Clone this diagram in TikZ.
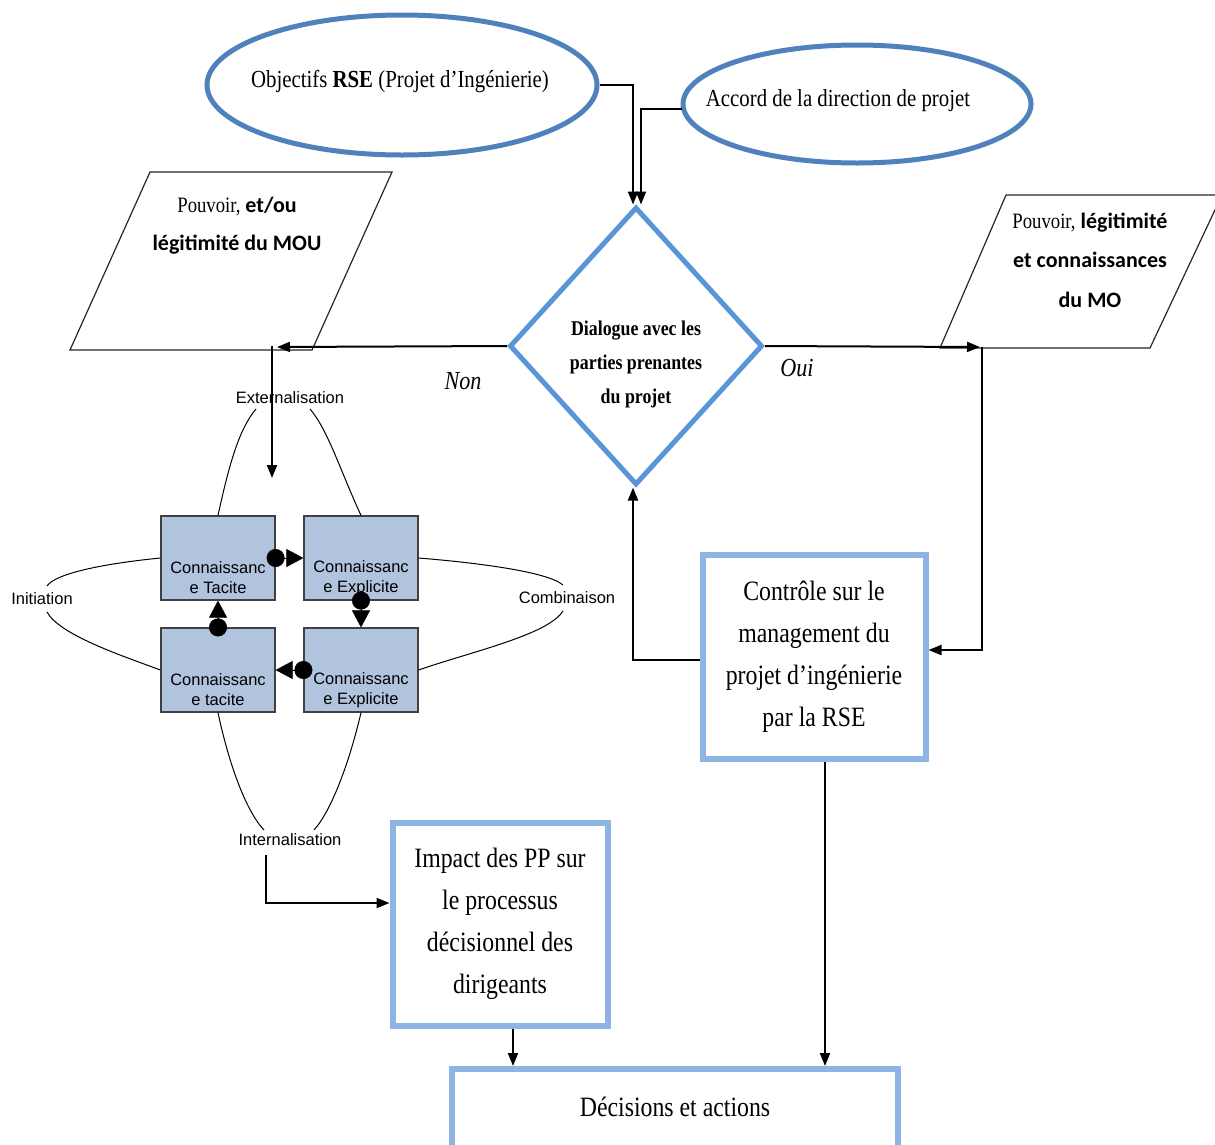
\documentclass[tikz,border=0pt]{standalone}
\usepackage{fontspec}
\setsansfont{Liberation Sans}
\newfontfamily\cserif[FakeStretch=0.85]{Liberation Serif}
\newfontfamily\csans{Carlito}
\usetikzlibrary{shapes.geometric,arrows.meta,calc}
\definecolor{ellblue}{RGB}{79,129,189}
\definecolor{diablue}{RGB}{90,150,215}
\definecolor{boxblue}{RGB}{141,180,226}
\definecolor{kfill}{RGB}{176,196,222}
\definecolor{kdraw}{RGB}{64,64,64}
\begin{document}
\begin{tikzpicture}[x=1pt,y=-1pt,
  ellnode/.style={ellipse, draw=ellblue, line width=5pt, inner sep=0pt},
  etext/.style={inner sep=0pt, font=\cserif\fontsize{24.5}{28}\selectfont},
  bbox/.style={rectangle, draw=boxblue, line width=6pt, inner sep=0pt, align=center,
    font=\cserif\fontsize{28}{42}\selectfont},
  kbox/.style={rectangle, draw=kdraw, fill=kfill, line width=1.2pt, minimum width=114pt, minimum height=84pt, inner sep=0pt},
  ktext/.style={align=center, inner sep=0pt, font=\sffamily\fontsize{16.5}{20}\selectfont},
  klabel/.style={inner sep=1pt, font=\sffamily\fontsize{16.5}{20}\selectfont},
  kmark/.style={line width=0.5pt, {Circle[length=18pt]}-{Triangle[length=17pt,width=18pt]}},
  arr/.style={line width=2pt, -{Triangle[length=13pt,width=10pt]}},
  curve/.style={line width=1pt},
  para/.style={line width=1.2pt, draw=black!85},
  ptext/.style={align=center, inner sep=0pt},
]
\useasboundingbox (0,0) rectangle (1215,1144);

% ellipses
\node[ellnode, minimum width=390pt, minimum height=140pt] (obj) at (402,85) {};
\node[etext] (objt) at (400,82) {Objectifs {\bfseries RSE} (Projet d’Ingénierie)};
\node[ellnode, minimum width=348pt, minimum height=118pt] (acc) at (857,104) {};
\node[etext] (acct) at (838,101) {Accord de la direction de projet};

% diamond
\node[diamond, draw=diablue, line width=5pt, minimum width=253pt, minimum height=278pt, inner sep=0pt] (dia) at (636,346) {};
\node[ptext, font=\cserif\bfseries\fontsize{21}{34}\selectfont] (diatext) at (636,364)
  {Dialogue avec les\\parties prenantes\\du projet};

% parallelograms
\draw[para] (150,172) -- (392,172) -- (312,350) -- (70,350) -- cycle;
\node[ptext, font=\csans\bfseries\fontsize{22}{38}\selectfont] (ptl) at (237,226)
  {{\cserif\mdseries Pouvoir,} et/ou\\légitimité du MOU};
\draw[para] (1006,195) -- (1222,195) -- (1150,348) -- (940,348) -- cycle;
\node[ptext, font=\csans\bfseries\fontsize{22}{39.5}\selectfont] (ptr) at (1090,260)
  {{\cserif\mdseries Pouvoir,} légitimité\\et connaissances\\du MO};

% blue boxes
\node[bbox, minimum width=223pt, minimum height=204pt] (ctrl) at (814,657)
  {Contrôle sur le\\management du\\projet d’ingénierie\\par la RSE};
\node[bbox, minimum width=215pt, minimum height=203pt] (imp) at (500,924)
  {Impact des PP sur\\le processus\\décisionnel des\\dirigeants};
\node[bbox, minimum width=446pt, minimum height=84pt] (dec) at (675,1111)
  {\raisebox{8pt}{Décisions et actions}};

% knowledge boxes
\node[kbox] (tl) at (218,558) {};
\node[kbox] (tr) at (361,558) {};
\node[kbox] (bl) at (218,670) {};
\node[kbox] (br) at (361,670) {};
\node[ktext] (tlt) at (218,578) {Connaissanc\\e Tacite};
\node[ktext] (trt) at (361,578) {Connaissanc\\e Explicite};
\node[ktext] (blt) at (218,690) {Connaissanc\\e tacite};
\node[ktext] (brt) at (361,690) {Connaissanc\\e Explicite};

\draw[kmark] ($(tl.east)+(-9,0)$) -- (tr.west);
\draw[kmark] ($(tr.south)+(0,-9)$) -- (br.north);
\draw[kmark] ($(br.west)+(9,0)$) -- (bl.east);
\draw[kmark] ($(bl.north)+(0,9)$) -- (tl.south);

% cycle labels and curves
\node[klabel] (ext) at (290,398) {Externalisation};
\node[klabel] (ini) at (42,599) {Initiation};
\node[klabel] (comb) at (567,598) {Combinaison};
\node[klabel] (intl) at (290,840) {Internalisation};

\draw[curve] (tl.north) .. controls (228,470) and (238,430) .. (256,409);
\draw[curve] (310,409) .. controls (328,430) and (340,470) .. (tr.north);
\draw[curve] (tl.west) .. controls (100,564) and (55,574) .. (47,586);
\draw[curve] (47,612) .. controls (60,635) and (120,655) .. (bl.west);
\draw[curve] (tr.east) .. controls (480,563) and (548,572) .. (563,585);
\draw[curve] (563,611) .. controls (548,635) and (470,652) .. (br.east);
\draw[curve] (bl.south) .. controls (228,760) and (245,810) .. (264,830);
\draw[curve] (br.south) .. controls (350,760) and (332,810) .. (314,830);

% helper coordinates
\coordinate (c633) at (633,0);
\coordinate (c641) at (641,0);
\coordinate (c825) at (825,0);
\coordinate (c513) at (513,0);
\coordinate (cNon) at (277,347);
\coordinate (cNonB) at (272,346);
\coordinate (cNonE) at (272,478);
\coordinate (cOui) at (980,347);
\coordinate (cOuiB) at (982,347);
\coordinate (cInt) at (266,855);

% connectors
\draw[arr] (obj.east) -| (dia.north -| c633);
\draw[arr] ($(acc.west)+(1,5)$) -| (dia.north -| c641);
\draw[arr] (dia.west) -- (cNon);
\draw[arr] (cNonB) -- (cNonE);
\draw[arr] (dia.east) -- (cOui);
\draw[arr] (cOuiB) |- ($(ctrl.east)+(0,-7)$);
\draw[arr] ($(ctrl.west)+(0,3)$) -| (dia.south -| c633);
\draw[arr] (ctrl.south -| c825) -- (dec.north -| c825);
\draw[arr] (imp.south -| c513) -- (dec.north -| c513);
\draw[arr] (cInt) |- ($(imp.west)+(0,-21)$);

\node[font=\cserif\itshape\fontsize{26}{30}\selectfont, inner sep=0pt] (non) at (463,381) {Non};
\node[font=\cserif\itshape\fontsize{26}{30}\selectfont, inner sep=0pt] (oui) at (797,368) {Oui};
\end{tikzpicture}
\end{document}
